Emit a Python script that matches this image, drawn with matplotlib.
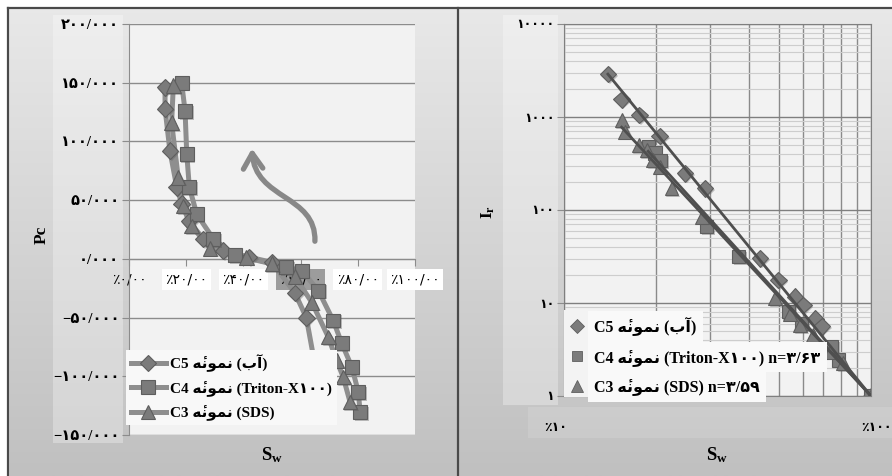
import numpy as np
import matplotlib
matplotlib.use('Agg')
import matplotlib.pyplot as plt
from matplotlib.lines import Line2D
from matplotlib.patches import Rectangle, FancyArrowPatch
from matplotlib.path import Path
from matplotlib import font_manager
from matplotlib import patheffects as pe
from matplotlib import transforms as mtrans
from matplotlib.ft2font import FT2Font
from matplotlib.colors import LinearSegmentedColormap
from matplotlib.ticker import FixedLocator, NullFormatter

# ---------------- data: left chart (capillary pressure) ----------------
c5_sw = [12.6, 12.6, 14.3, 16.7, 18.4, 21.0, 26.0, 33.0, 42.0, 50.0, 58.0, 62.0, 66.2, 67.4]
c5_pc = [146, 128, 92, 61, 47, 32, 17, 7, 1.5, -3, -29, -50, -106, -124]
c4_sw = [18.4, 19.6, 20.2, 21.1, 23.7, 29.5, 37.0, 55.0, 60.4, 66.2, 71.4, 74.4, 77.9, 80.2, 80.8]
c4_pc = [150, 126, 89, 61, 38, 17, 3, -7, -10, -27, -52.5, -72, -92, -113.5, -130.5]
c3_sw = [15.5, 14.9, 17.2, 19.0, 21.9, 28.3, 41.0, 50.0, 58.0, 63.9, 69.7, 72.6, 74.9, 77.3]
c3_pc = [147.5, 116, 69.5, 45, 28, 9, 1.4, -4, -15, -37, -66.7, -86.5, -100.7, -122]

left_yticks = [-150, -100, -50, 0, 50, 100, 150, 200]
left_yticklabels = ["−۱۵۰/۰۰۰", "−۱۰۰/۰۰۰", "−۵۰/۰۰۰", "۰/۰۰۰", "۵۰/۰۰۰", "۱۰۰/۰۰۰", "۱۵۰/۰۰۰", "۲۰۰/۰۰۰"]
left_xticks = [0, 20, 40, 60, 80, 100]
left_xticklabels = ["٪۰/۰۰", "٪۲۰/۰۰", "٪۴۰/۰۰", "٪۶۰/۰۰", "٪۸۰/۰۰", "٪۱۰۰/۰۰"]

# ---------------- data: right chart (resistivity index) ----------------
r5_sw = [13.9, 15.4, 17.6, 20.5, 24.8, 28.8, 43.5, 49.9, 56.5, 60.2, 65.8, 69.0, 100]
r5_ir = [2900, 1550, 1050, 625, 247, 171, 30.3, 17.7, 11.7, 9.5, 6.8, 5.6, 1]
r4_sw = [18.8, 19.8, 20.6, 29.2, 37.0, 53.8, 59.5, 74.5, 78.2, 100]
r4_ir = [480, 410, 340, 66, 31.5, 8.06, 6.0, 3.4, 2.44, 1]
r3_sw = [15.4, 15.8, 17.5, 18.6, 19.5, 20.5, 22.4, 28.1, 48.7, 54.5, 58.7, 64.9, 73.5, 81.3, 100]
r3_ir = [929, 695, 500, 442, 345, 292, 171, 85, 11.2, 7.7, 5.8, 4.5, 3.0, 2.24, 1]

right_yticks = [1, 10, 100, 1000, 10000]
right_yticklabels = ["۱", "۱۰", "۱۰۰", "۱۰۰۰", "۱۰۰۰۰"]
right_xticks = [10, 100]
right_xticklabels = ["٪۱۰", "٪۱۰۰"]

# ---------------- fonts / text helpers ----------------
FAM = ['Liberation Serif', 'DejaVu Sans']

def has_glyph(ch):
    p = font_manager.findfont(font_manager.FontProperties(family='DejaVu Sans', weight='bold'))
    try:
        return ord(ch) in FT2Font(p).get_charmap()
    except Exception:
        return False

heh = '\uFBA5' if has_glyph('\uFBA5') else '\uFEEA\u0654'
word_sample = heh + '\uFEE7\uFEEE\uFEE4\uFEE7'       # "نمونهٔ" in visual order (shaped)
word_water = '(\uFE8F\uFE81)'                         # "(آب)" in visual order

labels_left = ["C5 " + word_sample + " " + word_water,
               "C4 " + word_sample + " (Triton-X۱۰۰)",
               "C3 " + word_sample + " (SDS)"]
labels_right = ["C5 " + word_sample + " " + word_water,
                "C4 " + word_sample + " (Triton-X۱۰۰) n=۳/۶۳",
                "C3 " + word_sample + " (SDS) n=۳/۵۹"]

plt.rcParams['mathtext.fontset'] = 'custom'
plt.rcParams['mathtext.rm'] = 'Liberation Serif:bold'
plt.rcParams['mathtext.it'] = 'Liberation Serif:bold'

W, H = 892, 476
fig = plt.figure(figsize=(W / 100, H / 100), dpi=100)
fig.patch.set_facecolor('white')

def fx(px):
    return px / W

def fy(py):
    return 1 - py / H

# background gradient
bg = fig.add_axes([0, 0, 1, 1], zorder=-10)
cmap = LinearSegmentedColormap.from_list('g', ['#e9e9e9', '#c0c0c0'])
bg.imshow(np.linspace(0, 1, 256)[:, None], aspect='auto', cmap=cmap, extent=[0, 1, 0, 1])
bg.set_xlim(0, 1); bg.set_ylim(0, 1); bg.axis('off')
bg.add_patch(Rectangle((0, fy(8)), 1, 1, color='white', transform=bg.transAxes))
bg.add_patch(Rectangle((0, 0), fx(8), 1, color='white', transform=bg.transAxes))
# lighter label bands
bg.add_patch(Rectangle((fx(53), fy(443)), fx(70), (443 - 15) / H, color='white', alpha=0.3, lw=0))
bg.add_patch(Rectangle((fx(503), fy(405)), fx(55), (405 - 15) / H, color='white', alpha=0.3, lw=0))
bg.add_patch(Rectangle((fx(528), fy(438)), fx(364), 31 / H, color='white', alpha=0.12, lw=0))
# panel borders
for xs, ys in [([fx(8), 1], [fy(8), fy(8)]), ([fx(8), fx(8)], [0, fy(8)]), ([fx(458), fx(458)], [0, fy(8)])]:
    bg.add_line(Line2D(xs, ys, color='#4a4a4a', lw=1.6, transform=bg.transAxes))

PLOT_BG = '#f2f2f2'
GRID = '#8c8c8c'
LINE_G = '#8e8e8e'
MFC = '#7b7b7b'
MEC = '#5e5e5e'
SHADOW = [pe.withSimplePatchShadow(offset=(1.2, -1.2), shadow_rgbFace='#555555', alpha=0.35)]

tick_fp = font_manager.FontProperties(family=FAM, weight='bold', size=10.5)
rtick_fp = font_manager.FontProperties(family=FAM, weight='bold', size=9)
xtick_fp = font_manager.FontProperties(family=FAM, weight='normal', size=10)
leg_fp = font_manager.FontProperties(family=FAM, weight='bold', size=11)
leg2_fp = font_manager.FontProperties(family=FAM, weight='bold', size=11.5)

# ---------------- left chart ----------------
ax1 = fig.add_axes([fx(129), fy(435), fx(415 - 129), (435 - 24) / H])
ax1.set_facecolor(PLOT_BG)
ax1.set_axisbelow(True)
series_left = [(c5_sw, c5_pc, 'D', 8.5), (c4_sw, c4_pc, 's', 10), (c3_sw, c3_pc, '^', 10.5)]
for sw, pc, m, ms in series_left:
    ax1.plot(sw, pc, color=LINE_G, lw=3.6, zorder=2)
    ax1.plot(sw, pc, ls='none', marker=m, ms=ms, mfc=MFC, mec=MEC, mew=0.8, zorder=3,
             path_effects=SHADOW)
ax1.set_xlim(0, 100)
ax1.set_ylim(-150, 200)
ax1.yaxis.set_major_locator(FixedLocator(left_yticks))
ax1.set_yticklabels(left_yticklabels, fontproperties=tick_fp)
ax1.xaxis.set_major_locator(FixedLocator(left_xticks))
ax1.set_xticklabels(left_xticklabels, fontproperties=xtick_fp)
ax1.grid(axis='y', color=GRID, lw=1)
for s in ['top', 'right']:
    ax1.spines[s].set_visible(False)
ax1.spines['left'].set_color(GRID)
ax1.spines['bottom'].set_color(GRID)
ax1.spines['bottom'].set_position(('data', 0))
ax1.tick_params(axis='y', length=5, color=GRID, pad=2)
ax1.tick_params(axis='x', length=5, color=GRID, pad=5)
for i, t in enumerate(ax1.get_xticklabels()):
    if i == 0:
        continue
    t.set_bbox(dict(facecolor='#9c9c9c' if i == 3 else 'white', edgecolor='none', pad=2.5))

# curved arrow (annotation)
arrow_path = Path([(65, 15), (65.5, 55), (44, 50), (43, 94)],
                  [Path.MOVETO, Path.CURVE4, Path.CURVE4, Path.CURVE4])
ax1.add_patch(FancyArrowPatch(path=arrow_path, arrowstyle='->,head_length=0.55,head_width=0.35',
                              color='#888888', lw=3.8, zorder=1.5, mutation_scale=20))

handles_l = [Line2D([], [], color=LINE_G, lw=3.6, marker=m, ms=ms, mfc=MFC, mec=MEC, mew=0.8)
             for _, _, m, ms in series_left]
leg1 = fig.legend(handles_l, labels_left, loc='upper left', bbox_to_anchor=(fx(126), fy(350)),
                  bbox_transform=fig.transFigure, prop=leg_fp, frameon=True, fancybox=False,
                  facecolor='#f8f8f8', edgecolor='none', framealpha=1, borderpad=0.3,
                  labelspacing=0.55, handlelength=2.3, handletextpad=0.3, borderaxespad=0)

fig.text(fx(42), fy(235), 'Pc', rotation=90, ha='center', va='center',
         fontproperties=font_manager.FontProperties(family=FAM, weight='bold', size=12.5))
fig.text(fx(272), fy(455), r'$\mathrm{S_w}$', ha='center', va='center', fontsize=13.5)

# ---------------- right chart ----------------
ax2 = fig.add_axes([fx(564), fy(396), fx(871 - 564), (396 - 24) / H])
ax2.set_facecolor(PLOT_BG)
ax2.set_axisbelow(True)
ax2.set_xscale('log')
ax2.set_yscale('log')
ax2.set_xlim(10, 100)
ax2.set_ylim(1, 10000)
series_right = [(r5_sw, r5_ir, 'D', 8.5), (r4_sw, r4_ir, 's', 9.5), (r3_sw, r3_ir, '^', 10)]
for sw, ir, m, ms in series_right:
    x = np.log10(np.array(sw) / 100.0)
    y = np.log10(np.array(ir))
    n = -np.sum(x * y) / np.sum(x * x)
    xs = np.array([min(sw), 100.0])
    ax2.plot(xs, (xs / 100.0) ** (-n), color='#4f4f4f', lw=2.0, zorder=4)
    ax2.plot(sw, ir, ls='none', marker=m, ms=ms, mfc=MFC, mec=MEC, mew=0.8, zorder=3,
             path_effects=SHADOW)
ax2.yaxis.set_major_locator(FixedLocator(right_yticks))
ax2.set_yticklabels(right_yticklabels, fontproperties=rtick_fp)
ax2.xaxis.set_major_locator(FixedLocator(right_xticks))
ax2.set_xticklabels(right_xticklabels, fontproperties=rtick_fp)
ax2.xaxis.set_minor_formatter(NullFormatter())
ax2.yaxis.set_minor_formatter(NullFormatter())
ax2.grid(which='major', color='#7f7f7f', lw=1)
ax2.grid(which='minor', axis='x', color='#8a8a8a', lw=1)
ax2.grid(which='minor', axis='y', color='#cdcdcd', lw=0.8)
for s in ax2.spines.values():
    s.set_color('#7f7f7f')
ax2.tick_params(axis='y', which='major', length=5, color=GRID, pad=2)
ax2.tick_params(axis='both', which='minor', length=0)
ax2.tick_params(axis='x', which='major', length=0, pad=19)
xl = ax2.get_xticklabels()
xl[0].set_transform(xl[0].get_transform() + mtrans.ScaledTranslation(-6 / 72, 0, fig.dpi_scale_trans))
xl[1].set_transform(xl[1].get_transform() + mtrans.ScaledTranslation(4 / 72, 0, fig.dpi_scale_trans))

# marker column backdrop of the right legend
fig.patches.append(Rectangle((fx(564), fy(397)), fx(33), 87 / H, transform=fig.transFigure,
                             facecolor='#f3f3f3', edgecolor='none', zorder=4, figure=fig))
handles_r = [Line2D([], [], ls='none', marker=m, ms=ms * 0.8, mfc=MFC, mec=MEC, mew=0.6)
             for _, _, m, ms in series_right]
leg2 = fig.legend(handles_r, labels_right, loc='upper left', bbox_to_anchor=(fx(564), fy(312)),
                  bbox_transform=fig.transFigure, prop=leg2_fp, frameon=False, borderpad=0.3,
                  labelspacing=0.8, handlelength=1.0, handletextpad=0.6, borderaxespad=0)
for t in leg2.get_texts():
    t.set_bbox(dict(facecolor='#f9f9f9', edgecolor='none', pad=4.5))

fig.text(fx(488), fy(212), r'$\mathrm{I_r}$', rotation=90, ha='center', va='center', fontsize=12.5)
fig.text(fx(717), fy(455), r'$\mathrm{S_w}$', ha='center', va='center', fontsize=13.5)

fig.savefig('out.png', dpi=100)
